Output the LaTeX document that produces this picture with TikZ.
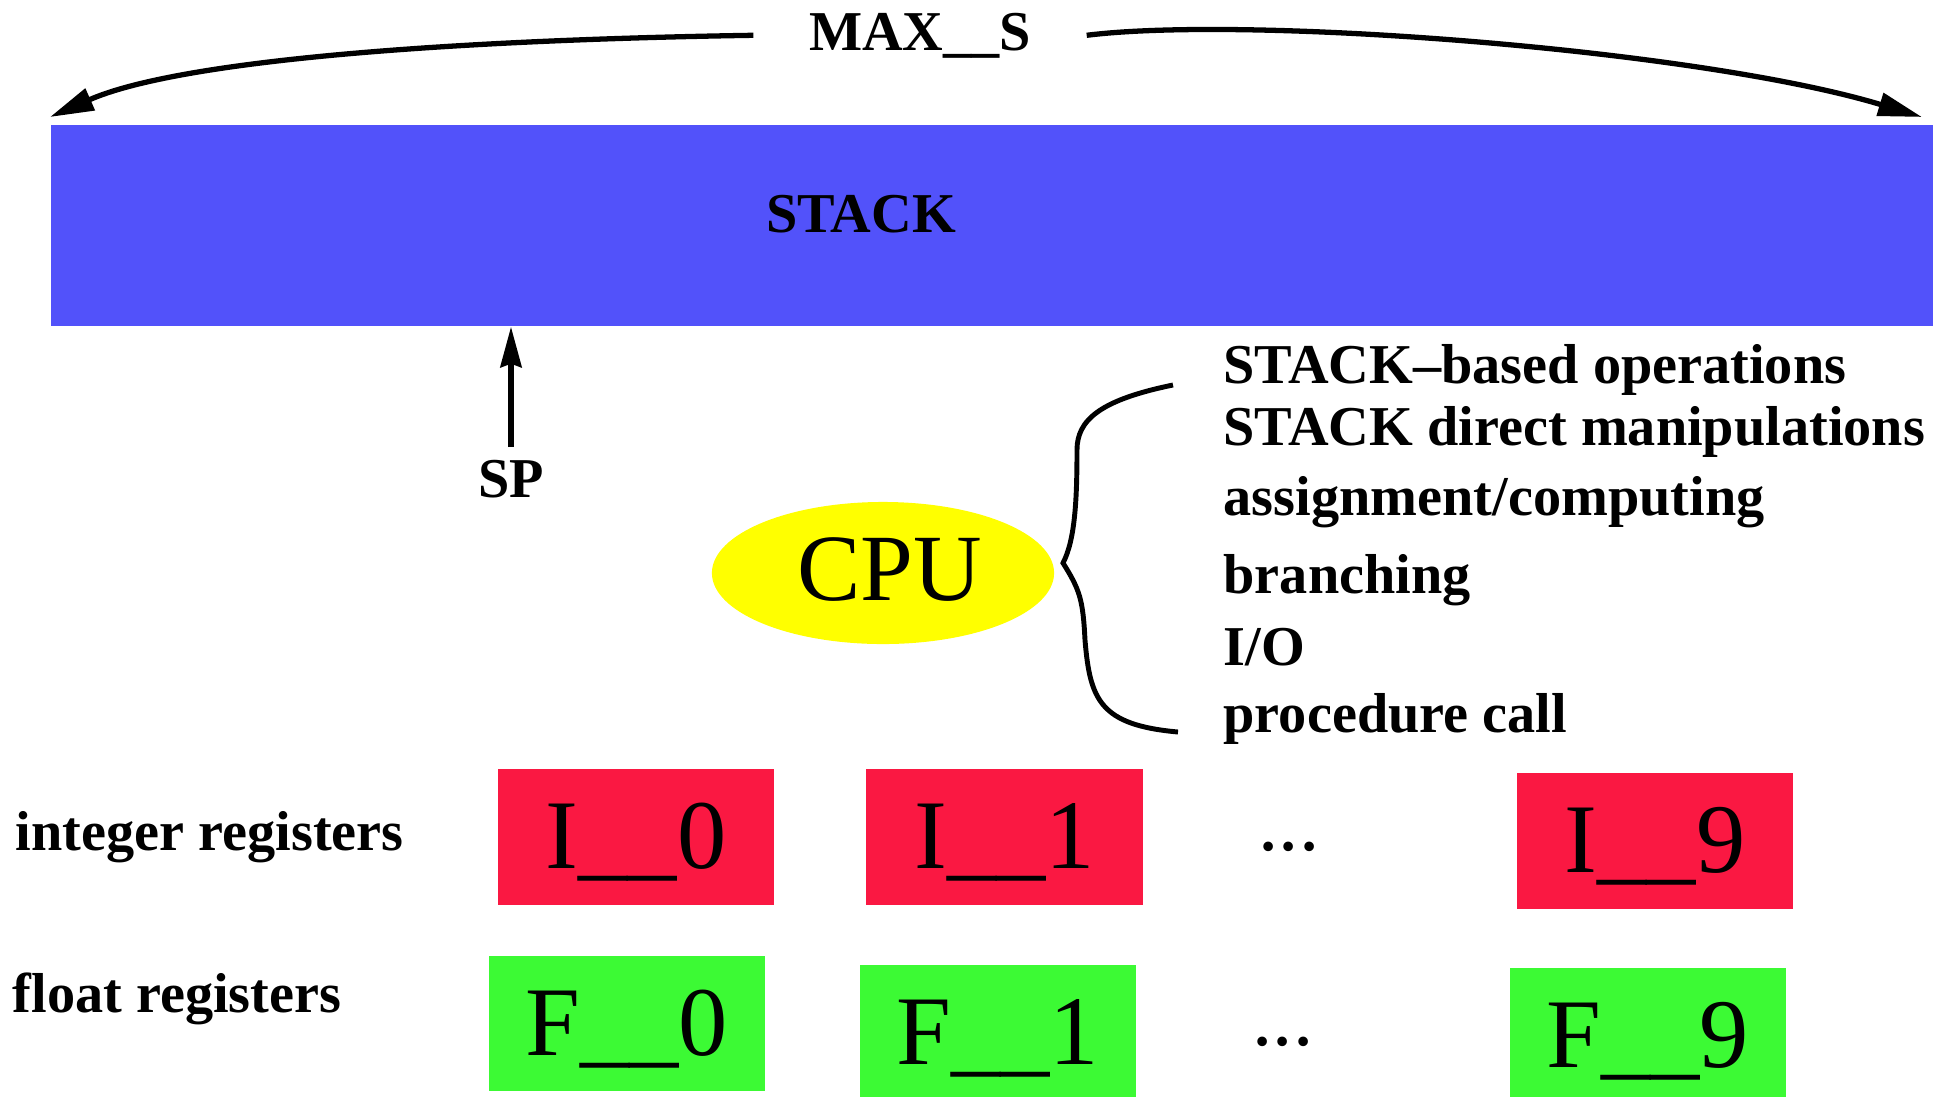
\documentclass[tikz,border=0pt]{standalone}
\usepackage{fontspec}
\setmainfont{Liberation Serif}
\usetikzlibrary{arrows.meta,shapes.geometric}
\definecolor{stackblue}{RGB}{82,82,250}
\definecolor{intred}{RGB}{250,24,66}
\definecolor{floatgreen}{RGB}{60,250,52}
\definecolor{cpuyellow}{RGB}{255,255,0}
\begin{document}
\begin{tikzpicture}[x=0.01cm, y=-0.01cm,
    label/.style={inner sep=0, font=\fontsize{16}{19}\selectfont\bfseries},
    dots/.style={inner sep=0, font=\fontsize{23}{26}\selectfont},
    reg/.style={minimum width=2.76cm, minimum height=1.35cm, inner sep=0,
      text height=18pt, text depth=0pt, font=\fontsize{28}{32}\selectfont},
    intreg/.style={reg, fill=intred},
    floatreg/.style={reg, fill=floatgreen},
    maxarrow/.style={line width=1.5pt, -{Triangle[length=12.5pt,width=6.5pt]}}]
  \useasboundingbox (0,0) rectangle (1944,1096);

  \node[fill=stackblue, inner sep=0, minimum width=18.8cm, minimum height=2.01cm] (stack) at (992,225.5) {};
  \node[label, anchor=base] (stacklabel) at (861,232) {STACK};

  \node[label, anchor=base, inner xsep=0.55cm] (maxs) at (920,50) {MAX\_\_S};
  \coordinate (leftend) at (50,117);
  \coordinate (rightend) at (1922,117);
  \draw[maxarrow] (maxs.west) .. controls (450,40) and (180,60) .. (leftend);
  \draw[maxarrow] (maxs.east) .. controls (1250,15) and (1700,50) .. (rightend);

  \node[label, anchor=base] (sp) at (511,497) {SP};
  \draw[line width=1.5pt, -{Stealth[length=11.5pt,width=6pt,inset=1pt]}] (sp.north) ++(0,-12) coordinate (spfoot) (spfoot) -- (spfoot |- stack.south);

  \node[ellipse, fill=cpuyellow, minimum width=3.42cm, minimum height=1.42cm, inner sep=0] (cpu) at (883,573) {};
  \node[anchor=base, inner sep=0, font=\fontsize{27}{30}\selectfont] (cpulabel) at (890,600) {CPU};

  % operations of the CPU
  \draw[line width=1.4pt] (1173,385) .. controls (1100,400) and (1077,420) .. (1077,450)
    .. controls (1077,500) and (1075,540) .. (1063,563)
    .. controls (1080,590) and (1083,600) .. (1085,640)
    .. controls (1090,700) and (1100,725) .. (1178,732);
  \node[label, anchor=base west] (op1) at (1223,383) {STACK--based operations};
  \node[label, anchor=base west] (op2) at (1223,445) {STACK direct manipulations};
  \node[label, anchor=base west] (op3) at (1223,515) {assignment/computing};
  \node[label, anchor=base west] (op4) at (1223,593) {branching};
  \node[label, anchor=base west] (op5) at (1223,665) {I/O};
  \node[label, anchor=base west] (op6) at (1223,732) {procedure call};

  \node[label, anchor=base west] (intlabel) at (15,850) {integer registers};
  \node[intreg] (i0) at (636,837) {I\_\_0};
  \node[intreg] (i1) at (1004.5,837) {I\_\_1};
  \node[dots, anchor=base] (idots) at (1289,850) {...};
  \node[intreg] (i9) at (1655,841) {I\_\_9};

  \node[label, anchor=base west] (floatlabel) at (12,1012) {float registers};
  \node[floatreg] (f0) at (627,1023.5) {F\_\_0};
  \node[floatreg] (f1) at (998,1032.5) {F\_\_1};
  \node[dots, anchor=base] (fdots) at (1283,1045) {...};
  \node[floatreg] (f9) at (1648,1035.5) {F\_\_9};
\end{tikzpicture}
\end{document}
